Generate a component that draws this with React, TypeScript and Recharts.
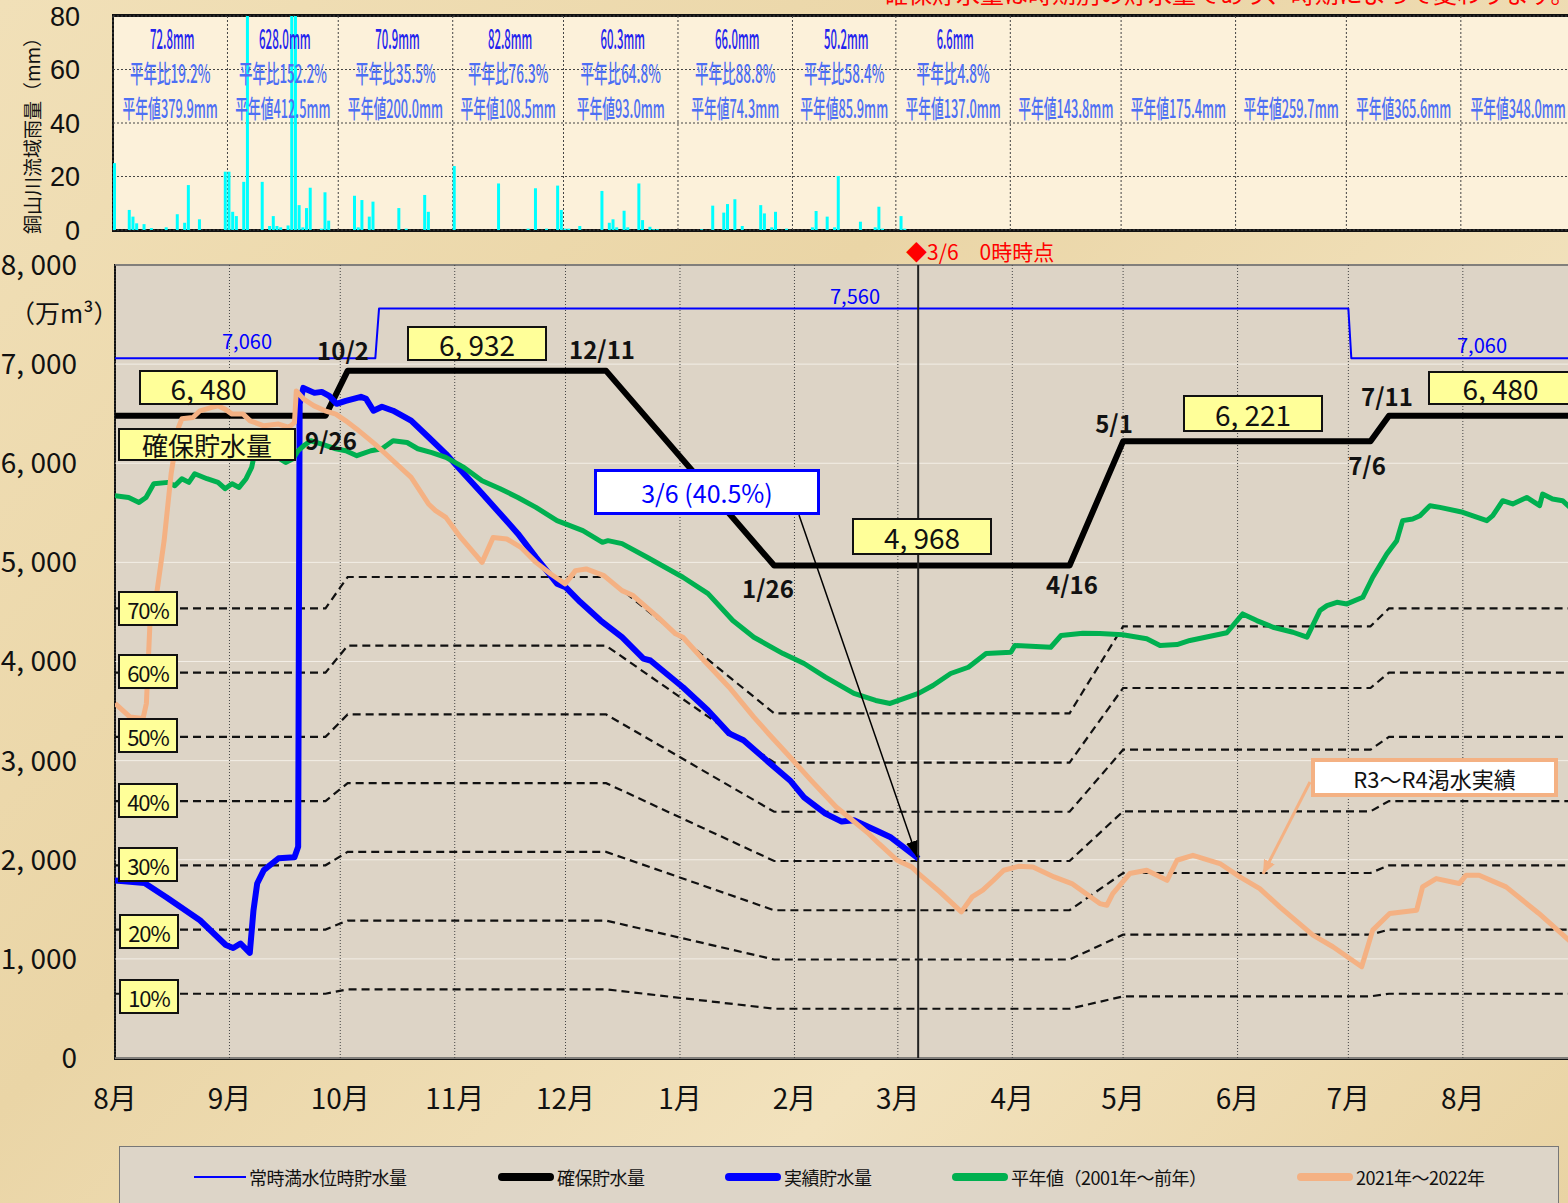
import React from "react";
import {
  ComposedChart, BarChart, Bar, Line, XAxis, YAxis, CartesianGrid, ReferenceLine,
} from "recharts";

const FONT = "'Noto Sans CJK JP', 'Noto Sans', sans-serif";
const ARIAL = "'Liberation Sans', Arial, sans-serif";
const DOMAIN_END = 397;
const PX_PER_DAY = 3.693;

// day index from Aug 1
const MONTH_STARTS = [0, 31, 61, 92, 122, 153, 184, 212, 243, 273, 304, 334, 365];
const MONTH_LABELS = ["8月", "9月", "10月", "11月", "12月", "1月", "2月", "3月", "4月", "5月", "6月", "7月", "8月"];

// daily basin rainfall [day, mm]
const RAIN: [number, number][] = [
  [0, 25], [4, 7.5], [5, 5], [6, 2.5], [8, 2.2], [10, 0.7], [14, 1], [17, 5.9], [19, 2.7], [20, 16.8],
  [23, 4], [30, 21.8], [31, 21.8], [32, 6.8], [33, 5.2], [35, 18], [36, 110], [40, 18], [42, 1.5],
  [43, 5.2], [44, 1.5], [45, 1], [47, 1.7], [48, 200], [49, 180], [50, 9.3], [51, 1], [52, 8.2],
  [53, 15.8], [56, 0.5], [57, 14.1], [58, 3.5], [65, 12.8], [66, 1], [67, 11.2], [69, 5], [70, 10.6],
  [77, 8.2], [79, 0.5], [84, 13.1], [85, 6.8], [92, 23.9], [104, 17.4], [112, 0.5], [114, 15.6],
  [117, 0.5], [120, 16.6], [121, 7.5], [122, 0.5], [123, 0.5], [126, 1.5], [132, 14.6], [134, 2.7],
  [135, 4], [136, 1], [138, 7.2], [139, 1], [142, 17.4], [143, 3.7], [145, 1.2], [146, 0.3], [147, 0.3],
  [159, 0.3], [162, 9.1], [165, 6.5], [166, 9.7], [168, 11.5], [170, 1.5], [175, 9.3], [176, 6.2],
  [178, 1], [179, 6.8], [182, 0.5], [189, 1], [190, 7.1], [193, 5], [195, 1], [196, 20.2], [202, 3.1],
  [206, 1], [207, 8.7], [208, 0.5], [213, 5.2], [214, 0.5],
];

const RAIN_TOTAL = ["72.8mm", "628.0mm", "70.9mm", "82.8mm", "60.3mm", "66.0mm", "50.2mm", "6.6mm"];
const RAIN_RATIO = ["平年比19.2%", "平年比152.2%", "平年比35.5%", "平年比76.3%", "平年比64.8%", "平年比88.8%", "平年比58.4%", "平年比4.8%"];
const RAIN_NORMAL = [
  "平年値379.9mm", "平年値412.5mm", "平年値200.0mm", "平年値108.5mm", "平年値93.0mm", "平年値74.3mm", "平年値85.9mm",
  "平年値137.0mm", "平年値143.8mm", "平年値175.4mm", "平年値259.7mm", "平年値365.6mm", "平年値348.0mm",
];

// storage (万m3), [day, value]
const CAPACITY: [number, number][] = [[0, 7060], [70.5, 7060], [71.5, 7560], [334, 7560], [334.8, 7060], [397, 7060]];
const SECURED: [number, number][] = [
  [0, 6480], [57, 6480], [63, 6932], [133, 6932], [178.5, 4968], [258.5, 4968], [273, 6221], [340, 6221], [345, 6480], [397, 6480],
];
const PCT_LEVELS = [70, 60, 50, 40, 30, 20, 10];

const ACTUAL: [number, number][] = [
  [0, 1790], [8, 1765], [14, 1620], [23, 1390], [30, 1140], [32, 1110], [34, 1155], [36.5, 1060], [37.5, 1490],
  [38.5, 1760], [40.3, 1895], [44.3, 2015], [48.6, 2025], [49.6, 2130], [50, 6600], [51, 6760], [54, 6710],
  [56, 6720], [58, 6680], [60, 6600], [62.5, 6630], [66.6, 6670], [68, 6650], [70, 6530], [72.3, 6570],
  [75.3, 6530], [80.2, 6430], [85, 6260], [89.6, 6095], [94.5, 5895], [99.4, 5695], [104.3, 5490],
  [109.1, 5290], [114, 5050], [119.7, 4785], [122, 4750], [126, 4600], [131.5, 4413], [137.3, 4245],
  [143.1, 4030], [145, 4010], [153.8, 3740], [160.6, 3505], [166.3, 3275], [170.2, 3205], [177, 2985],
  [182.8, 2800], [186.6, 2630], [192.4, 2465], [196.8, 2385], [200.1, 2398], [206, 2297], [209.9, 2230],
  [217.6, 2012],
];

const NORMAL: [number, number][] = [
  [0, 5673], [3.7, 5655], [6.5, 5605], [8.4, 5655], [10.5, 5793], [14.4, 5807], [16.2, 5773], [18.1, 5844],
  [20, 5807], [21.6, 5894], [24.9, 5844], [27.9, 5807], [29.8, 5743], [31.7, 5793], [33.6, 5756], [35.5, 5844],
  [37, 5958], [37.5, 6045], [39.5, 6096], [43.3, 6076], [46.2, 6008], [48.2, 6045], [49.6, 6126], [51.1, 6176],
  [53, 6227], [55.8, 6196], [59.8, 6146], [62.5, 6126], [65.5, 6076], [69.3, 6126], [72.3, 6146], [75.3, 6227],
  [79.1, 6209], [82, 6146], [85.8, 6108], [89.6, 6059], [94.5, 5958], [99.4, 5824], [104.3, 5743], [109.1, 5655],
  [114, 5555], [119.7, 5421], [126.7, 5320], [132, 5202], [133.5, 5219], [137.3, 5189], [144.1, 5051],
  [153.8, 4850], [160.6, 4685], [167.3, 4413], [173, 4245], [180.9, 4080], [186.6, 3980], [192.4, 3842],
  [200.1, 3678], [206, 3607], [209.9, 3577], [217.6, 3678], [221.5, 3758], [226.3, 3879], [231.1, 3942],
  [235.9, 4080], [242.6, 4094], [243.7, 4161], [253.4, 4144], [256.2, 4262], [262.1, 4285], [266.7, 4282],
  [272.9, 4270], [279.4, 4229], [283, 4161], [287.6, 4171], [291.1, 4212], [301.1, 4290], [305.4, 4480],
  [309.2, 4413], [313.6, 4346], [319, 4295], [322.8, 4245], [326.3, 4514], [328.2, 4564], [330.9, 4597],
  [333.6, 4581], [337.9, 4648], [340.6, 4850], [344.4, 5085], [347.1, 5219], [348.7, 5421], [351.4, 5438],
  [353.4, 5471], [356.1, 5572], [358.8, 5555], [365, 5505], [371.5, 5421], [373.1, 5471], [375.8, 5622],
  [378.5, 5589], [382.3, 5655], [385.8, 5572], [386.6, 5689], [389.3, 5639], [392, 5622], [394, 5555],
];

const LAST_YEAR: [number, number][] = [
  [0, 3577], [4.1, 3439], [7.6, 3426], [8.5, 3577], [9.5, 4413], [11.4, 4715], [13.3, 5219], [15.2, 5894],
  [17.2, 6361], [18.1, 6448], [21.1, 6461], [23, 6529], [26, 6562], [27.9, 6579], [29.8, 6546], [31.7, 6496],
  [34.7, 6496], [36.6, 6428], [40.3, 6378], [44.3, 6395], [47.1, 6361], [48.6, 6411], [49.1, 6730], [51.1, 6647],
  [53.9, 6579], [56.9, 6529], [59.8, 6496], [62.5, 6428], [65.5, 6344], [70.4, 6193], [75.3, 6025], [80.2, 5857],
  [84.9, 5589], [86.8, 5522], [89.6, 5454], [93.6, 5252], [99.4, 5000], [102.4, 5252], [106.1, 5236],
  [109.9, 5152], [114, 5000], [118, 4883], [121.9, 4783], [124.7, 4917], [127.6, 4934], [132.4, 4867],
  [137.3, 4715], [140.3, 4665], [147, 4447], [151.8, 4279], [153.8, 4245], [159.5, 4010], [166.3, 3741],
  [173, 3439], [177, 3271], [182.8, 3036], [188.5, 2801], [195.3, 2532], [199.2, 2414], [204.1, 2263],
  [206.9, 2162], [211.8, 1995], [215.7, 1928], [217.6, 1861], [223.4, 1676], [229.2, 1474], [232.1, 1625],
  [235, 1693], [237.9, 1793], [240.7, 1894], [244.7, 1934], [248.6, 1928], [254.3, 1827], [259.1, 1760],
  [266.7, 1558], [268.6, 1541], [270.2, 1659], [274.8, 1861], [279.4, 1894], [284.9, 1793], [287.6, 1995],
  [291.9, 2045], [299.2, 1962], [304.6, 1827], [310, 1709], [315.4, 1525], [324.4, 1239], [329.8, 1122],
  [337.6, 921], [340.6, 1290], [345.2, 1458], [352.5, 1491], [354.1, 1726], [357.8, 1810], [364, 1760],
  [365.9, 1844], [369.4, 1844], [376.7, 1726], [385.6, 1458], [394, 1180],
];

const STORAGE_TICKS = [0, 1000, 2000, 3000, 4000, 5000, 6000, 7000, 8000];
const RAIN_TICKS = [0, 20, 40, 60, 80];

const SERIES = [
  { name: "常時満水位時貯水量", data: CAPACITY, color: "#0000ff", width: 2 },
  { name: "確保貯水量", data: SECURED, color: "#000000", width: 6 },
  { name: "実績貯水量", data: ACTUAL, color: "#0000ff", width: 6 },
  { name: "平年値（2001年～前年）", data: NORMAL, color: "#00b050", width: 5 },
  { name: "2021年～2022年", data: LAST_YEAR, color: "#f4b183", width: 5 },
];
const LEGEND_LEFT = [74, 378, 605, 832, 1177];

const toRows = (pts: [number, number][]) => pts.map(([d, v]) => ({ d, v }));
const fmtStorage = (v: number) => (v === 0 ? "0" : `${Math.floor(v / 1000)}, ${String(v % 1000).padStart(3, "0")}`);
const estLen = (s: string) => Array.from(s).reduce((a, c) => a + (c.charCodeAt(0) > 255 ? 14.5 : 7.4), 0);

const yellowBox: React.CSSProperties = {
  position: "absolute", background: "#ffff99", border: "2px solid #111", boxSizing: "border-box",
  display: "flex", alignItems: "center", justifyContent: "center", fontFamily: FONT, color: "#111",
  whiteSpace: "nowrap",
};

const BOXES = [
  { text: "6, 480", l: 139, t: 370, w: 139, h: 35, fs: 28 },
  { text: "確保貯水量", l: 118, t: 428, w: 178, h: 33, fs: 26 },
  { text: "6, 932", l: 407, t: 326, w: 140, h: 35, fs: 28 },
  { text: "4, 968", l: 852, t: 518, w: 140, h: 37, fs: 28 },
  { text: "6, 221", l: 1183, t: 395, w: 140, h: 37, fs: 28 },
  { text: "6, 480", l: 1428, t: 371, w: 145, h: 34, fs: 28 },
];
const PCT_BOX_TOPS = [591, 654, 718, 783, 847, 914, 979];

const DATE_LABELS = [
  { text: "10/2", x: 343, y: 350 }, { text: "9/26", x: 331, y: 440 }, { text: "12/11", x: 602, y: 349 },
  { text: "1/26", x: 768, y: 588 }, { text: "4/16", x: 1072, y: 584 }, { text: "5/1", x: 1114, y: 423 },
  { text: "7/11", x: 1387, y: 396 }, { text: "7/6", x: 1367, y: 465 },
];
const CAP_LABELS = [
  { text: "7,060", x: 247, y: 341 }, { text: "7,560", x: 855, y: 296 }, { text: "7,060", x: 1482, y: 345 },
];

function TopTexts() {
  const cols = MONTH_STARTS.map((s, i) => {
    const e = i + 1 < MONTH_STARTS.length ? MONTH_STARTS[i + 1] : 396;
    return 113 + PX_PER_DAY * (s + e) / 2;
  });
  const txt = (s: string, x: number, y: number, color: string, key: string, fs: number) => (
    <text key={key} x={x} y={y} textAnchor="middle" dominantBaseline="central" fill={color}
      fontFamily={FONT} fontSize={fs} fontWeight={500} textLength={estLen(s)} lengthAdjust="spacingAndGlyphs">{s}</text>
  );
  return (
    <svg width={1568} height={240} style={{ position: "absolute", left: 0, top: 0 }}>
      {RAIN_TOTAL.map((s, i) => txt(s, cols[i] + 2, 37, "#2323ee", "t" + i, 27))}
      {RAIN_RATIO.map((s, i) => txt(s, cols[i], 72, "#4d6ff4", "r" + i, 25))}
      {RAIN_NORMAL.map((s, i) => txt(s, cols[i], 107, "#4d6ff4", "n" + i, 25))}
      <text x={31} y={131} transform="rotate(-90 31 131)" textAnchor="middle" dominantBaseline="central"
        fontFamily={FONT} fontSize={19} fill="#111">銅山川流域雨量（mm）</text>
    </svg>
  );
}

function Legend() {
  return (
    <div style={{
      position: "absolute", left: 119, top: 1146, width: 1440, height: 80, background: "#ddd5c8",
      border: "1px solid #777", boxSizing: "border-box", fontFamily: FONT, fontSize: 18, color: "#111",
    }}>
      {SERIES.map((s, i) => (
        <div key={s.name} style={{
          position: "absolute", left: LEGEND_LEFT[i], top: 19, display: "flex", alignItems: "center", height: 22,
          whiteSpace: "nowrap",
        }}>
          <div style={{
            width: i === 0 ? 52 : 56, height: i === 0 ? 2 : 8, background: s.color,
            borderRadius: i === 0 ? 0 : 4, marginRight: 3,
          }} />
          <span style={{ letterSpacing: -0.5 }}>{s.name}</span>
        </div>
      ))}
    </div>
  );
}

export default function App() {
  const rainRows = RAIN.map(([d, mm]) => ({ x: d + 0.5, mm }));
  return (
    <div style={{
      position: "fixed", left: 0, top: 0, width: 1568, height: 1203, overflow: "hidden",
      background: "linear-gradient(135deg, #f1e0b8 0%, #ead5a6 40%, #f2e2bd 70%, #e9d3a3 100%)",
    }}>
      {/* plot backgrounds */}
      <div style={{
        position: "absolute", left: 112, top: 14, width: 1500, height: 218, background: "#fcf1da",
        borderTop: "3px solid #111", borderBottom: "3px solid #111", borderLeft: "2px solid #111", boxSizing: "border-box",
      }} />
      <div style={{
        position: "absolute", left: 114, top: 264, width: 1500, height: 796, background: "#ddd4c6",
        borderTop: "2px solid #111", borderBottom: "3px solid #111", borderLeft: "2px solid #111", boxSizing: "border-box",
      }} />

      {/* rainfall */}
      <div style={{ position: "absolute", left: 0, top: 0 }}>
        <BarChart width={1600} height={260} data={rainRows} margin={{ top: 16, right: 21, bottom: 30, left: 0 }}>
          <CartesianGrid stroke="#444" strokeDasharray="2 2" />
          <XAxis type="number" dataKey="x" domain={[0, DOMAIN_END]} ticks={MONTH_STARTS} hide allowDataOverflow />
          <YAxis domain={[0, 80]} ticks={RAIN_TICKS} allowDataOverflow width={113} tickLine={false} axisLine={false}
            tickSize={0} tickMargin={33} tick={{ fontSize: 27, fill: "#111", fontFamily: ARIAL }} />
          <Bar dataKey="mm" fill="#00ffff" barSize={3} isAnimationActive={false} />
        </BarChart>
      </div>
      <TopTexts />

      {/* storage */}
      <div style={{ position: "absolute", left: 0, top: 0 }}>
        <ComposedChart width={1600} height={1203} margin={{ top: 265, right: 19, bottom: 85, left: 0 }}>
          <CartesianGrid vertical={false} stroke="#f3eee6" />
          <CartesianGrid horizontal={false} stroke="#444" strokeDasharray="1 2" />
          <XAxis type="number" dataKey="d" domain={[0, DOMAIN_END]} allowDataOverflow ticks={MONTH_STARTS} interval={0}
            height={60} tickLine={false} axisLine={false} tickSize={0} tickMargin={31}
            tickFormatter={(v: number) => MONTH_LABELS[MONTH_STARTS.indexOf(v)]}
            tick={{ fontSize: 28, fill: "#111", fontFamily: FONT }} />
          <YAxis type="number" domain={[0, 8000]} ticks={STORAGE_TICKS} width={115} tickLine={false} axisLine={false}
            tickSize={0} tickMargin={38} tickFormatter={fmtStorage}
            tick={{ fontSize: 28, fill: "#111", fontFamily: FONT }} />
          {PCT_LEVELS.map((p) => (
            <Line key={p} data={toRows(SECURED.map(([d, v]) => [d, (v * p) / 100] as [number, number]))} dataKey="v"
              type="linear" stroke="#111" strokeWidth={2.2} strokeDasharray="8 5" dot={false}
              isAnimationActive={false} legendType="none" />
          ))}
          {SERIES.map((s) => (
            <Line key={s.name} name={s.name} data={toRows(s.data)} dataKey="v" type="linear" stroke={s.color}
              strokeWidth={s.width} dot={false} isAnimationActive={false} strokeLinejoin="round" />
          ))}
          <ReferenceLine x={217.5} stroke="#222" strokeWidth={2} />
        </ComposedChart>
      </div>

      {/* annotations */}
      <div style={{ position: "absolute", left: 10, top: 294, fontFamily: FONT, fontSize: 25, color: "#111", whiteSpace: "nowrap" }}>
        （万m³）
      </div>
      <div style={{ position: "absolute", left: 884, top: -25, fontFamily: FONT, fontSize: 24, color: "#ff0000", whiteSpace: "nowrap" }}>
        確保貯水量は時期別の貯水量であり、時期によって変わります。
      </div>
      <div style={{ position: "absolute", left: 906, top: 236, fontFamily: FONT, fontSize: 21, color: "#ff0000", whiteSpace: "nowrap" }}>
        ◆3/6　0時時点
      </div>
      {CAP_LABELS.map((c, i) => (
        <div key={i} style={{
          position: "absolute", left: c.x - 40, top: c.y - 14, width: 80, textAlign: "center",
          fontFamily: FONT, fontSize: 20, color: "#0000ff", lineHeight: "28px",
        }}>{c.text}</div>
      ))}
      {BOXES.map((b, i) => (
        <div key={i} style={{ ...yellowBox, left: b.l, top: b.t, width: b.w, height: b.h, fontSize: b.fs }}>{b.text}</div>
      ))}
      {PCT_LEVELS.map((p, i) => (
        <div key={p} style={{
          ...yellowBox, left: i >= 5 ? 119 : 118, top: PCT_BOX_TOPS[i], width: 60, height: 35, fontSize: 22,
          letterSpacing: -1,
        }}>{p}%</div>
      ))}
      {DATE_LABELS.map((d, i) => (
        <div key={i} style={{
          position: "absolute", left: d.x - 40, top: d.y - 16, width: 80, textAlign: "center",
          fontFamily: FONT, fontSize: 24, fontWeight: 700, color: "#111", lineHeight: "32px",
        }}>{d.text}</div>
      ))}
      <div style={{
        position: "absolute", left: 594, top: 469, width: 226, height: 46, background: "#fff",
        border: "3px solid #0000ff", boxSizing: "border-box", display: "flex", alignItems: "center",
        justifyContent: "center", fontFamily: FONT, fontSize: 25, color: "#0000ff",
      }}>3/6 (40.5%)</div>
      <div style={{
        position: "absolute", left: 1311, top: 758, width: 247, height: 39, background: "#fff",
        border: "4px solid #f4b183", boxSizing: "border-box", display: "flex", alignItems: "center",
        justifyContent: "center", fontFamily: FONT, fontSize: 22, color: "#111",
      }}>R3～R4渇水実績</div>
      <svg width={1568} height={1203} style={{ position: "absolute", left: 0, top: 0, pointerEvents: "none" }}>
        <defs>
          <marker id="ahBlack" markerUnits="userSpaceOnUse" markerWidth={16} markerHeight={12} refX={16} refY={6} orient="auto">
            <path d="M0,0 L16,6 L0,12 z" fill="#000" />
          </marker>
          <marker id="ahOrange" markerUnits="userSpaceOnUse" markerWidth={14} markerHeight={12} refX={14} refY={6} orient="auto">
            <path d="M0,0 L14,6 L0,12 z" fill="#f4b183" />
          </marker>
        </defs>
        <line x1={799} y1={515} x2={917} y2={857} stroke="#000" strokeWidth={1.5} markerEnd="url(#ahBlack)" />
        <line x1={1310} y1={782} x2={1263} y2={874} stroke="#f4b183" strokeWidth={3} markerEnd="url(#ahOrange)" />
      </svg>
      <Legend />
    </div>
  );
}
